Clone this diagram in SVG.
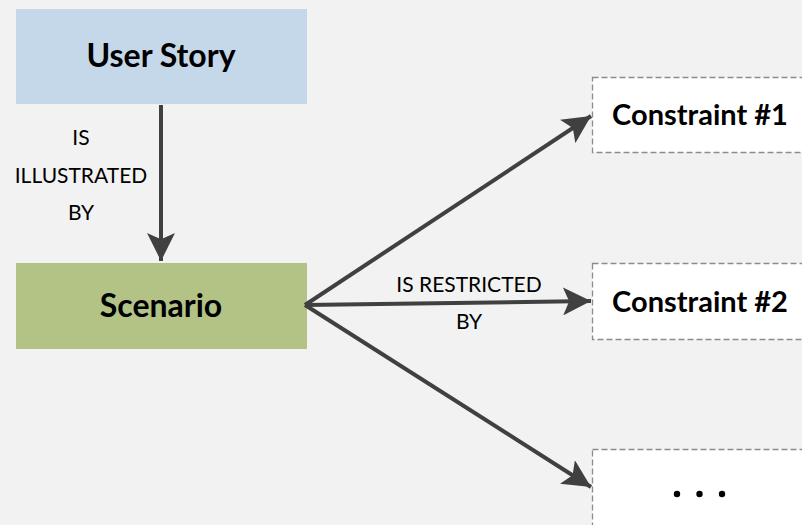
<svg xmlns="http://www.w3.org/2000/svg" width="802" height="525" viewBox="0 0 802 525">
  <style>
    .title { font-family: Lato, "Open Sans", "Liberation Sans", sans-serif; font-weight: bold; font-size: 32px; fill: #000; text-anchor: middle; }
    .ctitle { font-family: Lato, "Open Sans", "Liberation Sans", sans-serif; font-weight: bold; font-size: 29px; fill: #000; text-anchor: middle; }
    .label { font-family: Lato, "Open Sans", "Liberation Sans", sans-serif; font-size: 21px; fill: #000; text-anchor: middle; }
    .constraint { fill: #ffffff; stroke: #8c8c8c; stroke-width: 1.3; stroke-dasharray: 6 3; }
    .edge { stroke: #404040; stroke-width: 4; fill: none; marker-end: url(#head); }
  </style>
  <defs>
    <marker id="head" viewBox="0 0 10 10" refX="10" refY="5" markerWidth="7" markerHeight="7" markerUnits="strokeWidth" orient="auto">
      <path d="M0,0 L10,5 L0,10 L2.2,5 Z" fill="#404040"/>
    </marker>
  </defs>
  <rect width="802" height="525" fill="#f2f2f2"/>

  <g id="user-story">
    <rect x="16" y="9" width="291" height="95" fill="#c5d8e9"/>
    <text class="title" x="161" y="67">User Story</text>
  </g>

  <g id="scenario">
    <rect x="16" y="263" width="291" height="86" fill="#b3c386"/>
    <text class="title" x="161" y="317">Scenario</text>
  </g>

  <g id="constraint-1">
    <rect class="constraint" x="592.5" y="77.5" width="215" height="75"/>
    <text class="ctitle" x="700" y="125">Constraint #1</text>
  </g>

  <g id="constraint-2">
    <rect class="constraint" x="592.5" y="263.5" width="215" height="76"/>
    <text class="ctitle" x="700" y="312">Constraint #2</text>
  </g>

  <g id="constraint-more">
    <rect class="constraint" x="592.5" y="449.5" width="215" height="90"/>
    <circle cx="677" cy="494" r="3.2" fill="#000"/>
    <circle cx="699.5" cy="494" r="3.2" fill="#000"/>
    <circle cx="722" cy="494" r="3.2" fill="#000"/>
  </g>

  <g id="connectors">
    <line class="edge" x1="161" y1="105" x2="161" y2="261"/>
    <line class="edge" x1="305" y1="305" x2="591" y2="116"/>
    <line class="edge" x1="305" y1="305" x2="591" y2="301"/>
    <line class="edge" x1="305" y1="305" x2="591" y2="487"/>
    <text class="label" x="81" y="145">IS</text>
    <text class="label" x="81" y="183">ILLUSTRATED</text>
    <text class="label" x="81" y="220">BY</text>
    <text class="label" x="469" y="292">IS RESTRICTED</text>
    <text class="label" x="469" y="329">BY</text>
  </g>
</svg>
